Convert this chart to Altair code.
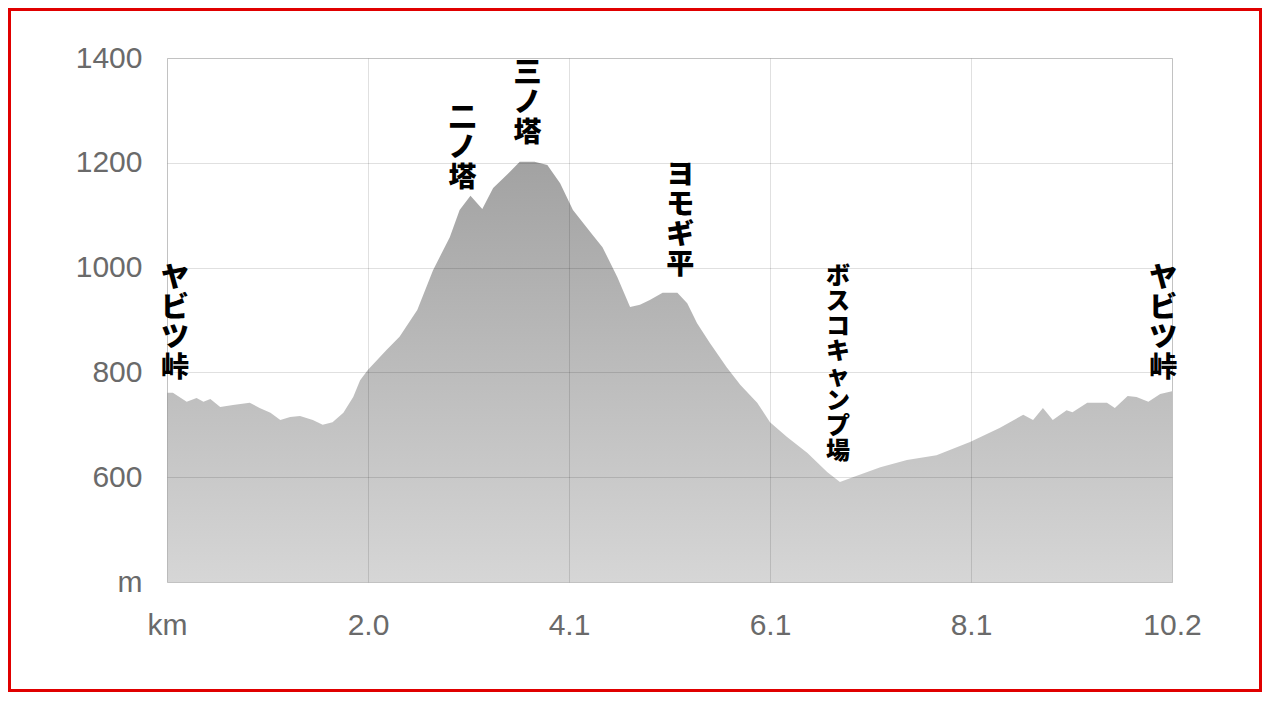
import altair as alt
import pandas as pd

# Elevation profile (distance in km, elevation in m)
distance_km = [0.00, 0.06, 0.20, 0.30, 0.37, 0.44, 0.54, 0.67, 0.84, 0.94,
               1.05, 1.15, 1.25, 1.35, 1.48, 1.58, 1.68, 1.79, 1.89, 1.96,
               2.04, 2.23, 2.36, 2.54, 2.70, 2.87, 2.97, 3.08, 3.20, 3.31,
               3.45, 3.58, 3.73, 3.86, 3.99, 4.12, 4.32, 4.42, 4.57, 4.70,
               4.80, 4.90, 5.03, 5.18, 5.28, 5.38, 5.51, 5.68, 5.82, 5.99,
               6.12, 6.29, 6.50, 6.70, 6.83, 6.96, 7.24, 7.51, 7.81, 8.15,
               8.45, 8.69, 8.79, 8.89, 8.99, 9.13, 9.19, 9.34, 9.54, 9.62,
               9.75, 9.84, 9.96, 10.08, 10.20]
elevation_m = [761, 761, 744, 751, 744, 749, 734, 738, 742, 732,
               723, 709, 715, 717, 709, 700, 705, 723, 753, 785,
               805, 843, 868, 919, 995, 1058, 1110, 1137, 1112, 1152,
               1177, 1202, 1202, 1196, 1161, 1110, 1062, 1039, 982, 925,
               929, 938, 952, 952, 932, 894, 856, 810, 776, 742,
               705, 677, 646, 610, 591, 600, 619, 633, 642, 667,
               694, 719, 709, 732, 709, 728, 724, 742, 742, 732,
               755, 753, 744, 759, 764]

# Place-name annotations
place_names = ["ヤビツ峠", "二ノ塔", "三ノ塔", "ヨモギ平", "ボスコキャンプ場", "ヤビツ峠"]
place_km = [0.08, 3.00, 3.66, 5.21, 6.81, 10.11]
place_label_top_m = [1005, 1310, 1396, 1201, 1005, 1005]
place_group = ["big", "big", "big", "big", "small", "big"]

# Axis ticks
x_tick_values = [0, 2.04, 4.08, 6.12, 8.16, 10.2]
x_tick_labels = ["km", "2.0", "4.1", "6.1", "8.1", "10.2"]
y_tick_values = [400, 600, 800, 1000, 1200, 1400]

profile = pd.DataFrame({"km": distance_km, "m": elevation_m})
places = pd.DataFrame({
    "name": ["\n".join(list(n)) for n in place_names],
    "km": place_km,
    "m": place_label_top_m,
    "grp": place_group,
})

W, H = 1005, 524
PAD = {"left": 159, "top": 50, "right": 90, "bottom": 110}

x_label_expr = "[" + ",".join("'" + s + "'" for s in x_tick_labels) + "][indexof([" + \
    ",".join(str(v) for v in x_tick_values) + "], datum.value)]"

x_scale = alt.Scale(domain=[0, 10.2], nice=False, zero=False)
y_scale = alt.Scale(domain=[400, 1400], nice=False, zero=False)

x_axis = alt.Axis(values=x_tick_values, labelExpr=x_label_expr, title=None,
                  ticks=False, domain=False, grid=True, gridColor="#000000",
                  gridOpacity=0.12, labelFont="Liberation Sans", labelFontSize=30,
                  labelColor="#6a6a6a", labelPadding=28, zindex=1,
                  labelFlush=False)
y_axis = alt.Axis(values=y_tick_values, format="d",
                  labelExpr="datum.value == 400 ? 'm' : datum.label",
                  title=None, ticks=False, domain=False, grid=True,
                  gridColor="#000000", gridOpacity=0.12,
                  labelFont="Liberation Sans", labelFontSize=30,
                  labelColor="#6a6a6a", labelPadding=25, zindex=1)

area = alt.Chart(profile).mark_area(
    clip=True,
    line=False,
    color=alt.Gradient(
        gradient="linear",
        stops=[alt.GradientStop(color="#a2a2a2", offset=0),
               alt.GradientStop(color="#d6d6d6", offset=1)],
        x1=0, x2=0, y1=0, y2=1,
    ),
).encode(
    x=alt.X("km:Q", scale=x_scale, axis=x_axis),
    y=alt.Y("m:Q", scale=y_scale, axis=y_axis),
    y2=alt.datum(400),
)

text_big = alt.Chart(places).transform_filter(alt.datum.grp == "big").mark_text(
    font="Noto Sans CJK JP", fontWeight=900, fontSize=28, lineHeight=30,
    lineBreak="\n", baseline="top", align="center", color="#000000",
).encode(
    x=alt.X("km:Q", scale=x_scale),
    y=alt.Y("m:Q", scale=y_scale),
    text="name:N",
)

text_small = alt.Chart(places).transform_filter(alt.datum.grp == "small").mark_text(
    font="Noto Sans CJK JP", fontWeight=900, fontSize=24, lineHeight=25,
    lineBreak="\n", baseline="top", align="center", color="#000000",
).encode(
    x=alt.X("km:Q", scale=x_scale),
    y=alt.Y("m:Q", scale=y_scale),
    text="name:N",
)

frame_df = pd.DataFrame({"k": [0]})
frame = alt.Chart(frame_df).mark_rect(
    fill=None, stroke="#e00000", strokeWidth=3, clip=False,
).encode(
    x=alt.value(-PAD["left"] + 1.5),
    x2=alt.value(W + PAD["right"] - 1.5),
    y=alt.value(-PAD["top"] + 1.5),
    y2=alt.value(H + PAD["bottom"] - 1.5),
)

chart = alt.layer(area, text_big, text_small, frame).properties(
    width=W, height=H,
    autosize=alt.AutoSizeParams(type="none"),
    padding=PAD,
    background="white",
).configure_view(stroke="#dddddd", strokeWidth=1)

chart.save("out.html", embed_options={"renderer": "svg", "actions": False})
